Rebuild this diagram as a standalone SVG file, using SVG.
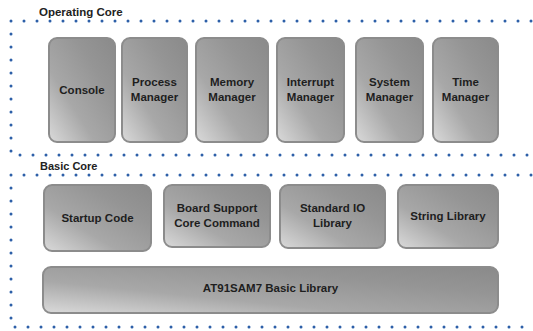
<svg xmlns="http://www.w3.org/2000/svg" width="533" height="331" viewBox="0 0 533 331">
<defs>
<linearGradient id="g" x1="0" y1="1" x2="1" y2="0">
<stop offset="0" stop-color="#dadada"/>
<stop offset="0.35" stop-color="#a8a8a8"/>
<stop offset="0.7" stop-color="#959595"/>
<stop offset="1" stop-color="#8a8a8a"/>
</linearGradient>
</defs>
<style>
.box{fill:url(#g);stroke:#8c8c8c;stroke-width:2}
.t{font-family:"Liberation Sans",Arial,sans-serif;font-weight:bold;font-size:11.5px;fill:#1e1e1e;text-anchor:middle}
.lbl{font-family:"Liberation Sans",Arial,sans-serif;font-weight:bold;font-size:11px;fill:#222}
.dot{fill:none;stroke:#2d5fa8;stroke-width:3;stroke-linecap:round;stroke-dasharray:0 13}
</style>
<g id="frames">
<path class="dot" d="M531,21 L11,21 L11,155 L531,155"/>
<path class="dot" d="M531,175 L11,175 L11,327 L531,327"/>
<text class="lbl" x="39" y="16" style="font-size:11.5px">Operating Core</text>
<text class="lbl" x="40" y="170">Basic Core</text>
</g>
<g id="console"><rect class="box" x="49" y="38" width="66" height="104" rx="8"/><text class="t" x="82" y="94">Console</text></g>
<g id="process"><rect class="box" x="122" y="38" width="65" height="104" rx="8"/><text class="t" x="154.5" y="86">Process</text><text class="t" x="154.5" y="101">Manager</text></g>
<g id="memory"><rect class="box" x="196" y="38" width="72" height="104" rx="8"/><text class="t" x="232" y="86">Memory</text><text class="t" x="232" y="101">Manager</text></g>
<g id="interrupt"><rect class="box" x="277" y="38" width="67" height="104" rx="8"/><text class="t" x="310.5" y="86">Interrupt</text><text class="t" x="310.5" y="101">Manager</text></g>
<g id="system"><rect class="box" x="356" y="38" width="67" height="104" rx="8"/><text class="t" x="389.5" y="86">System</text><text class="t" x="389.5" y="101">Manager</text></g>
<g id="time"><rect class="box" x="433" y="38" width="65" height="104" rx="8"/><text class="t" x="465.5" y="86">Time</text><text class="t" x="465.5" y="101">Manager</text></g>
<g id="startup"><rect class="box" x="44" y="185" width="107" height="66" rx="8"/><text class="t" x="97.5" y="222">Startup Code</text></g>
<g id="board"><rect class="box" x="164" y="185" width="106" height="62" rx="8"/><text class="t" x="217" y="212">Board Support</text><text class="t" x="217" y="227">Core Command</text></g>
<g id="stdio"><rect class="box" x="280" y="185" width="105" height="63" rx="8"/><text class="t" x="332.5" y="212">Standard IO</text><text class="t" x="332.5" y="227">Library</text></g>
<g id="string"><rect class="box" x="398" y="185" width="100" height="63" rx="8"/><text class="t" x="448" y="220">String Library</text></g>
<g id="at91"><rect class="box" x="43" y="267" width="455" height="46" rx="8"/><text class="t" x="270.5" y="292">AT91SAM7 Basic Library</text></g>
<g id="connectors"></g>
</svg>
